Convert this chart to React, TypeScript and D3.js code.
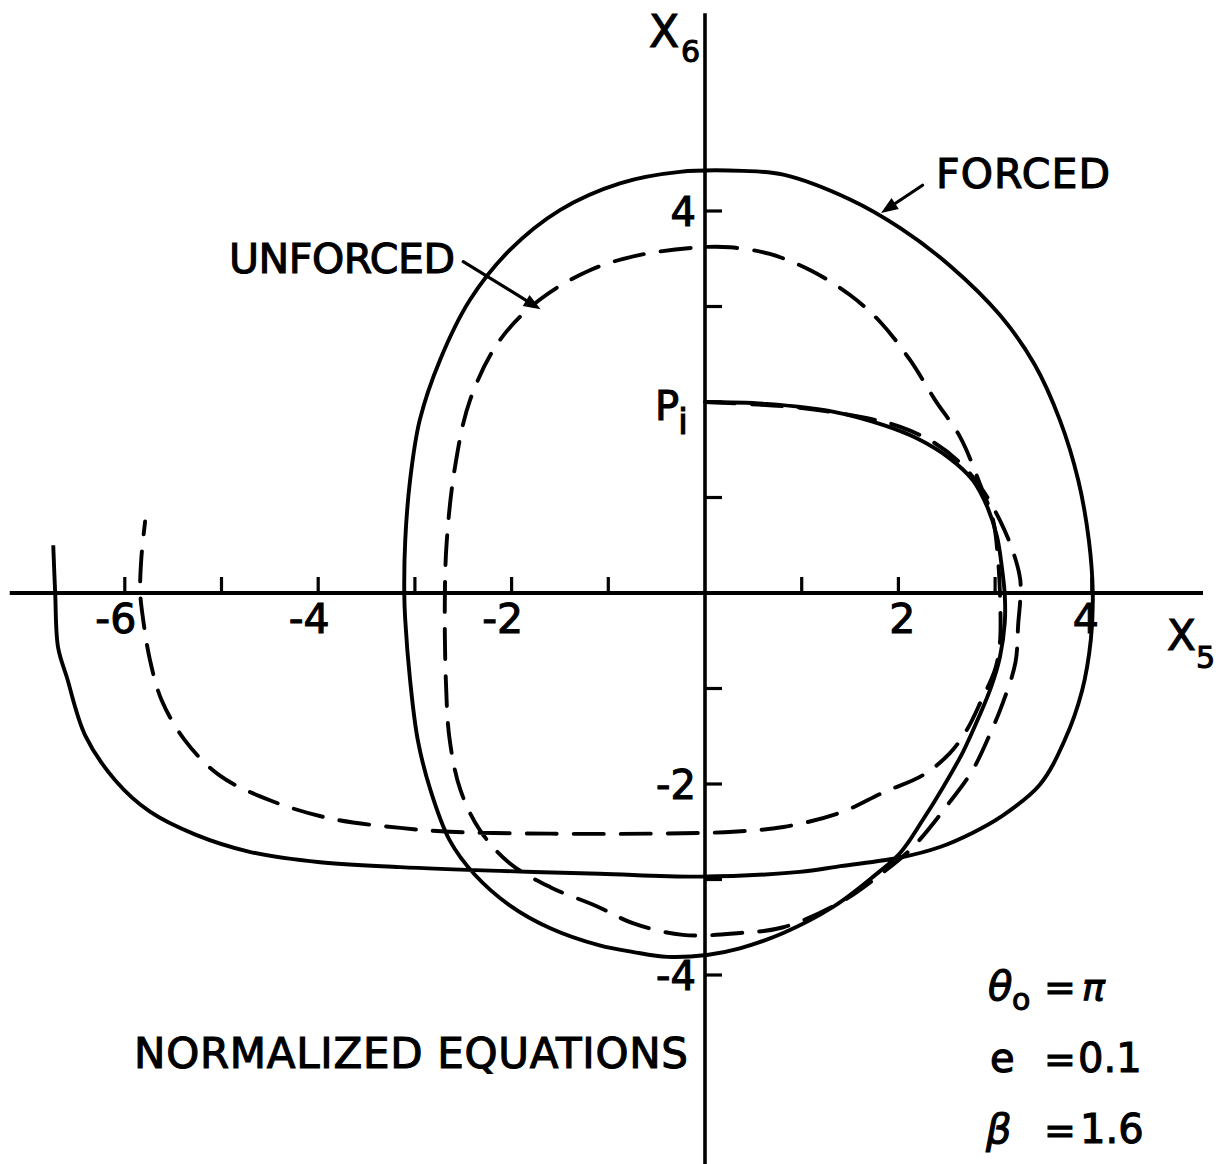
import React from "react";
import * as d3 from "d3";

// Phase-plane trajectories (X5, X6), normalized equations
const forcedPath: [number, number][] = [
  [0, 2.0], [0.64, 1.98], [1.32, 1.9], [1.84, 1.76], [2.19, 1.62], [2.53, 1.41],
  [2.77, 1.18], [2.92, 0.9], [3.02, 0.59], [3.07, 0.27], [3.1, -0.02], [3.1, -0.31],
  [3.05, -0.67], [2.96, -0.98], [2.84, -1.28], [2.67, -1.66], [2.47, -2.02],
  [2.25, -2.38], [2.02, -2.72], [1.74, -2.97], [1.32, -3.29], [0.81, -3.56],
  [0.36, -3.72], [0.02, -3.79], [-0.39, -3.81], [-0.74, -3.76], [-1.09, -3.69],
  [-1.6, -3.51], [-2.02, -3.27], [-2.38, -2.95], [-2.64, -2.59], [-2.84, -2.06],
  [-2.97, -1.54], [-3.05, -0.91], [-3.1, -0.28], [-3.11, 0], [-3.1, 0.55],
  [-3.05, 1.18], [-2.95, 1.81], [-2.74, 2.44], [-2.43, 3.07], [-2.02, 3.59],
  [-1.5, 4.01], [-0.88, 4.29], [-0.26, 4.41], [0.39, 4.42], [0.81, 4.38],
  [1.5, 4.12], [2.02, 3.82], [2.53, 3.43], [3.05, 2.91], [3.41, 2.39], [3.67, 1.81],
  [3.86, 1.18], [3.97, 0.55], [4.01, 0], [3.99, -0.49], [3.9, -1.02], [3.72, -1.54],
  [3.46, -2.01], [3.05, -2.35], [2.77, -2.51], [2.43, -2.66], [2.02, -2.77],
  [1.4, -2.86], [0.98, -2.92], [-0.05, -2.97], [-1.09, -2.94], [-2.12, -2.91],
  [-3.15, -2.87], [-3.98, -2.82], [-4.71, -2.71], [-5.27, -2.53], [-5.74, -2.29],
  [-6.1, -1.96], [-6.41, -1.49], [-6.6, -0.88], [-6.69, -0.57], [-6.72, 0],
  [-6.74, 0.5],
];

const unforcedPath: [number, number][] = [
  [0, 2.0], [0.98, 1.94], [1.68, 1.83], [2.02, 1.74], [2.36, 1.58], [2.64, 1.36],
  [2.87, 1.08], [3.05, 0.76], [3.19, 0.42], [3.26, 0.14], [3.26, -0.07],
  [3.24, -0.31], [3.21, -0.73], [3.08, -1.15], [2.95, -1.47], [2.77, -1.85],
  [2.53, -2.19], [2.15, -2.66], [1.81, -2.95], [1.4, -3.24], [0.81, -3.5],
  [0.36, -3.56], [-0.23, -3.58], [-0.74, -3.46], [-1.12, -3.28], [-1.6, -3.08],
  [-2.02, -2.83], [-2.33, -2.48], [-2.53, -2.06], [-2.64, -1.54], [-2.68, -0.91],
  [-2.69, 0], [-2.67, 0.55], [-2.59, 1.29], [-2.43, 2.02], [-2.12, 2.65],
  [-1.71, 3.07], [-1.19, 3.38], [-0.67, 3.54], [-0.05, 3.62], [0.26, 3.62],
  [0.67, 3.55], [1.09, 3.38], [1.5, 3.12], [1.81, 2.84], [2.12, 2.44], [2.38, 2.02],
  [2.64, 1.63], [2.84, 1.15], [2.98, 0.76], [3.03, 0.35], [3.05, 0], [3.05, -0.52],
  [3.0, -0.8], [2.86, -1.12], [2.71, -1.43], [2.53, -1.68], [2.25, -1.91],
  [1.84, -2.09], [1.4, -2.3], [0.81, -2.45], [0.29, -2.5], [-0.57, -2.52],
  [-1.6, -2.52], [-2.64, -2.5], [-3.15, -2.46], [-3.88, -2.36], [-4.5, -2.17],
  [-5.02, -1.91], [-5.38, -1.54], [-5.62, -1.12], [-5.74, -0.7], [-5.81, -0.28],
  [-5.84, 0], [-5.83, 0.35], [-5.79, 0.75],
];

const xTicks = [-6, -5, -4, -3, -2, -1, 1, 2, 3, 4];
const xTickLabels = [-6, -4, -2, 2, 4];
const yTicks = [-4, -3, -2, -1, 1, 2, 3, 4];
const yTickLabels = [-4, -2, 4];

// axis extents in data units
const xAxisExtent = [-7.19, 5.15];
const yAxisExtent = [-6.0, 6.07];

// annotation arrows: [tail, tip] in data units
const forcedArrow: [number, number][] = [[2.25, 4.27], [1.82, 3.98]];
const unforcedArrow: [number, number][] = [[-2.5, 3.47], [-1.7, 2.97]];

const W = 1221;
const H = 1164;
const FONT = "'DejaVu Sans', 'Liberation Sans', Arial, sans-serif";

function Arrow({ pts, x, y }: { pts: [number, number][]; x: any; y: any }) {
  const [t0, t1] = pts;
  const x0 = x(t0[0]), y0 = y(t0[1]), x1 = x(t1[0]), y1 = y(t1[1]);
  const ang = Math.atan2(y1 - y0, x1 - x0);
  const len = 17, hw = 6.5;
  const bx = x1 - len * Math.cos(ang), by = y1 - len * Math.sin(ang);
  const px = -Math.sin(ang), py = Math.cos(ang);
  const head = `${x1},${y1} ${bx + hw * px},${by + hw * py} ${bx - hw * px},${by - hw * py}`;
  return (
    <g>
      <line x1={x0} y1={y0} x2={bx} y2={by} stroke="#000" strokeWidth={3.2} strokeLinecap="round" />
      <polygon points={head} fill="#000" />
    </g>
  );
}

export default function App() {
  const x = d3.scaleLinear().domain([-6, 4]).range([124.8, 1091.8]);
  const y = d3.scaleLinear().domain([-4, 4]).range([975, 211]);
  const line = d3
    .line<[number, number]>()
    .x((d) => x(d[0]))
    .y((d) => y(d[1]))
    .curve(d3.curveCatmullRom.alpha(0.5));

  const x0 = x(0);
  const y0 = y(0);

  return (
    <svg
      width={W}
      height={H}
      viewBox={`0 0 ${W} ${H}`}
      style={{ position: "absolute", left: 0, top: 0, background: "#fff" }}
      fontFamily={FONT}
    >
      <rect width={W} height={H} fill="#fff" />

      {/* axes */}
      <line x1={x(xAxisExtent[0])} x2={x(xAxisExtent[1])} y1={y0} y2={y0} stroke="#000" strokeWidth={4} />
      <line x1={x0} x2={x0} y1={y(yAxisExtent[1])} y2={y(yAxisExtent[0])} stroke="#000" strokeWidth={3.6} />

      {xTicks.map((t) => (
        <line key={"xt" + t} x1={x(t)} x2={x(t)} y1={y0} y2={y0 - 16} stroke="#000" strokeWidth={3.2} />
      ))}
      {yTicks.map((t) => (
        <line key={"yt" + t} x1={x0} x2={x0 + 17} y1={y(t)} y2={y(t)} stroke="#000" strokeWidth={3.2} />
      ))}

      {/* trajectories */}
      <path d={line(forcedPath) || ""} fill="none" stroke="#000" strokeWidth={3.9} strokeLinejoin="round" />
      <path
        d={line(unforcedPath) || ""}
        fill="none"
        stroke="#000"
        strokeWidth={3.9}
        strokeDasharray="30 17"
        strokeLinecap="round"
      />

      <g stroke="#000" strokeWidth={1.1} fill="#000">
        {xTickLabels.map((t) => (
          <text key={"xl" + t} x={x(t) + (t < 0 ? -9 : t === 4 ? -6 : 4)} y={y0 + 40} fontSize={41} textAnchor="middle">
            {t < 0 ? "-" + Math.abs(t) : String(t)}
          </text>
        ))}
        {yTickLabels.map((t) => (
          <text key={"yl" + t} x={x0 - 9} y={y(t) + 15} fontSize={40} textAnchor="end">
            {t < 0 ? "-" + Math.abs(t) : String(t)}
          </text>
        ))}

        {/* axis titles */}
        <text x={649} y={47} fontSize={44}>X</text>
        <text x={681} y={62} fontSize={30}>6</text>
        <text x={1167} y={650} fontSize={42}>X</text>
        <text x={1196} y={668} fontSize={30}>5</text>

        {/* initial point */}
        <text x={655} y={420} fontSize={40}>P</text>
        <text x={678} y={434} fontSize={36}>i</text>

        {/* labels */}
        <text x={936} y={188} fontSize={41} textLength={174} lengthAdjust="spacing">FORCED</text>
        <text x={229} y={273} fontSize={41} textLength={226} lengthAdjust="spacing">UNFORCED</text>
        <text x={134} y={1068} fontSize={42} textLength={554} lengthAdjust="spacing">
          NORMALIZED EQUATIONS
        </text>

        {/* parameters */}
        <text x={988} y={1000} fontSize={40} fontStyle="italic">θ</text>
        <text x={1012} y={1010} fontSize={30}>o</text>
        <text x={1044} y={1000} fontSize={38}>=</text>
        <text x={1082} y={1000} fontSize={38} fontStyle="italic">π</text>

        <text x={990} y={1072} fontSize={40}>e</text>
        <text x={1044} y={1072} fontSize={38}>=</text>
        <text x={1078} y={1072} fontSize={40}>0.1</text>

        <text x={986} y={1143} fontSize={40} fontStyle="italic">β</text>
        <text x={1044} y={1143} fontSize={38}>=</text>
        <text x={1080} y={1143} fontSize={40}>1.6</text>
      </g>

      <Arrow pts={forcedArrow} x={x} y={y} />
      <Arrow pts={unforcedArrow} x={x} y={y} />
    </svg>
  );
}
